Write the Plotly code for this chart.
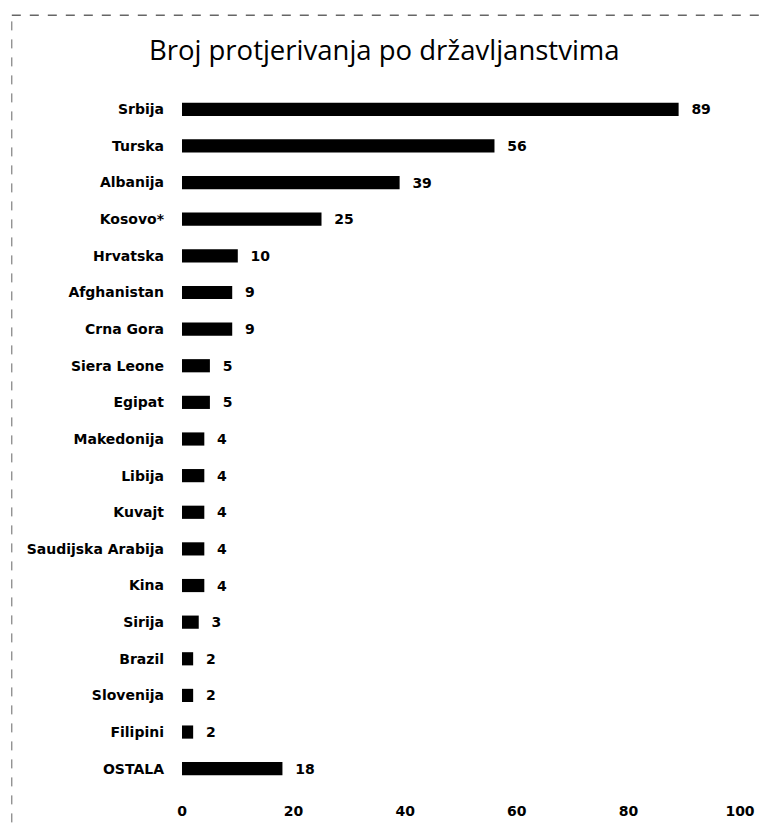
import plotly.graph_objects as go

drzave = ['Srbija', 'Turska', 'Albanija', 'Kosovo*', 'Hrvatska', 'Afghanistan',
          'Crna Gora', 'Siera Leone', 'Egipat', 'Makedonija', 'Libija', 'Kuvajt',
          'Saudijska Arabija', 'Kina', 'Sirija', 'Brazil', 'Slovenija', 'Filipini',
          'OSTALA']
broj = [89, 56, 39, 25, 10, 9, 9, 5, 5, 4, 4, 4, 4, 4, 3, 2, 2, 2, 18]
x_ticks = [0, 20, 40, 60, 80, 100]

fig = go.Figure(go.Bar(
    x=broj,
    y=drzave,
    orientation='h',
    marker=dict(color='black', line=dict(width=0)),
    width=0.36,
    texttemplate='  %{x}',
    textposition='outside',
    constraintext='none',
    textfont=dict(family='DejaVu Sans', size=14, color='black', weight='bold'),
    cliponaxis=False,
))

fig.update_layout(
    width=771, height=824,
    paper_bgcolor='white', plot_bgcolor='white',
    margin=dict(l=174, r=39, t=83, b=45),
    title=dict(text='Broj protjerivanja po državljanstvima',
               x=0.488, xanchor='center', y=0.949, yanchor='middle',
               font=dict(family='Open Sans', size=27.5, color='black')),
    showlegend=False,
    # isprekidani rub (ostatak skena)
    shapes=[
        dict(type='line', xref='paper', yref='paper', x0=-0.305, x1=1.036,
             y0=1.109, y1=1.109, line=dict(color='#666', width=1.5, dash='dash')),
        dict(type='line', xref='paper', yref='paper', x0=-0.305, x1=-0.305,
             y0=1.1, y1=-0.053, line=dict(color='#666', width=1, dash='dash')),
    ],
)
fig.update_xaxes(range=[0, 100], tickvals=x_ticks, showgrid=False, zeroline=False,
                 showline=False, ticks='', ticklabelstandoff=14,
                 tickfont=dict(family='DejaVu Sans', size=14, color='black', weight='bold'))
fig.update_yaxes(autorange='reversed', showgrid=False, showline=False, ticks='',
                 ticklabelstandoff=17,
                 tickfont=dict(family='DejaVu Sans', size=14, color='black', weight='bold'))

fig.write_html('out.html')
